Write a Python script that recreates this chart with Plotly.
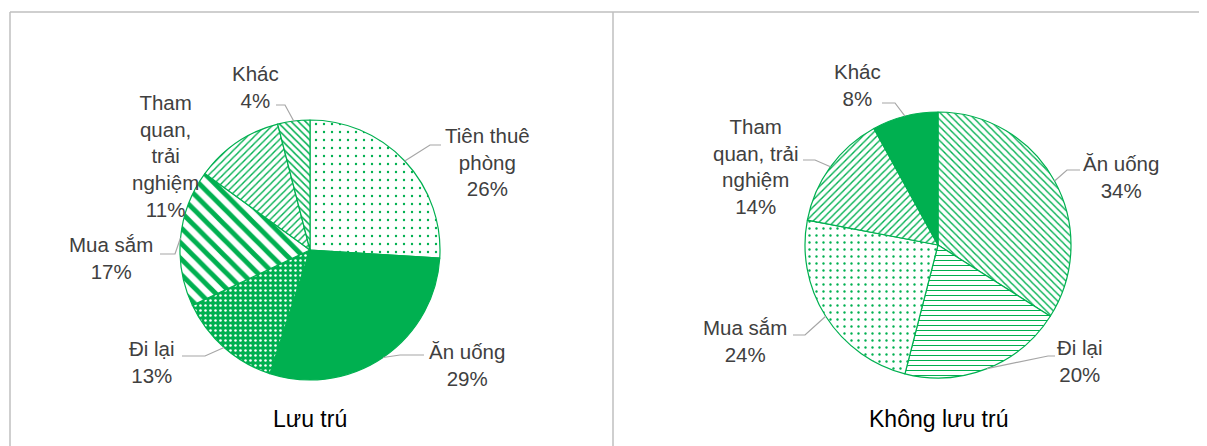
import math
import plotly.graph_objects as go

# ---- data ----
left_labels = ["Tiên thuê phòng", "Ăn uống", "Đi lại", "Mua sắm", "Tham quan, trải nghiệm", "Khác"]
left_values = [26, 29, 13, 17, 11, 4]
right_labels = ["Ăn uống", "Đi lại", "Mua sắm", "Tham quan, trải nghiệm", "Khác"]
right_values = [34, 20, 24, 14, 8]
titles = ["Lưu trú", "Không lưu trú"]

# ---- style / layout ----
W, H = 1207, 446
OFF = 8  # page body margin in the browser
GREEN = "#00B050"
TEXT = "#404040"
LEAD = "#A6A6A6"
FONT = "Liberation Sans, Arial, sans-serif"

def px(x):
    return (x - OFF) / W

def py(y):
    return 1 - (y - OFF) / H

# pie geometry in screen pixels: centre x, centre y, radius
pies = [
    dict(cx=310, cy=250, r=130),
    dict(cx=938, cy=245, r=133),
]

# wrapped label text, label block centre, leader elbow and end (screen pixels)
left_text = ["Tiên thuê<br>phòng", "Ăn uống", "Đi lại", "Mua sắm", "Tham<br>quan,<br>trải<br>nghiệm", "Khác"]
left_pos = [(487, 162), (467, 365), (152, 362), (111, 258), (166, 156), (255, 87)]
left_lead = [((430, 145), (441, 145)), ((400, 355), (424, 355)), ((205, 356), (182, 356)),
             ((175, 254), (160, 254)), None, ((285, 105), (276, 105))]

right_text = ["Ăn uống", "Đi lại", "Mua sắm", "Tham<br>quan, trải<br>nghiệm", "Khác"]
right_pos = [(1121, 177), (1080, 361), (745, 341), (755, 166), (858, 85)]
right_lead = [((1067, 170), (1080, 170)), ((1048, 356), (1055, 356)), ((805, 335), (793, 335)),
              ((815, 160), (803, 160)), ((895, 103), (882, 103))]

left_pat = dict(
    shape=[".", "", ".", "\\", "/", "\\"],
    fgcolor=[GREEN, GREEN, "white", GREEN, GREEN, GREEN],
    bgcolor=["white", GREEN, GREEN, "white", "white", "white"],
    size=[8, 8, 5, 11, 5, 5],
    solidity=[0.07, 0.3, 0.2, 0.45, 0.28, 0.3],
    fillmode="replace",
)
right_pat = dict(
    shape=["\\", "-", ".", "/", ""],
    fgcolor=[GREEN, GREEN, GREEN, GREEN, GREEN],
    bgcolor=["white", "white", "white", "white", GREEN],
    size=[5, 5, 7, 5, 8],
    solidity=[0.28, 0.2, 0.09, 0.28, 0.3],
    fillmode="replace",
)

fig = go.Figure()

sets = [
    (left_labels, left_values, left_pat, left_text, left_pos, left_lead),
    (right_labels, right_values, right_pat, right_text, right_pos, right_lead),
]

annotations = []
shapes = []

for (labels, values, pat, texts, pos, lead), g, title in zip(sets, pies, titles):
    cx, cy, r = g["cx"], g["cy"], g["r"]
    fig.add_trace(go.Pie(
        labels=labels,
        values=values,
        sort=False,
        direction="clockwise",
        rotation=0,
        textinfo="none",
        hovertemplate="%{label}: %{percent}<extra></extra>",
        marker=dict(colors=pat["bgcolor"], line=dict(color=GREEN, width=1.2), pattern=pat),
        domain=dict(x=[px(cx - r), px(cx + r)], y=[py(cy + r), py(cy - r)]),
        showlegend=False,
    ))

    total = sum(values)
    cum = 0
    for v, t, (lx, ly), ld in zip(values, texts, pos, lead):
        pct = round(100 * v / total)
        annotations.append(dict(
            x=px(lx), y=py(ly), xref="paper", yref="paper",
            text=f"{t}<br>{pct}%", showarrow=False, align="center",
            xanchor="center", yanchor="middle",
            font=dict(family=FONT, size=20.5, color=TEXT),
        ))
        ang = 2 * math.pi * (cum + v / 2) / total
        cum += v
        if ld is None:
            continue
        sx = cx + r * math.sin(ang)
        sy = cy - r * math.cos(ang)
        (ex, ey), (fx, fy) = ld
        shapes.append(dict(
            type="path", xref="paper", yref="paper",
            path=f"M {px(sx)} {py(sy)} L {px(ex)} {py(ey)} L {px(fx)} {py(fy)}",
            line=dict(color=LEAD, width=1.2),
        ))

    annotations.append(dict(
        x=px(cx), y=py(419), xref="paper", yref="paper",
        text=title, showarrow=False, xanchor="center", yanchor="middle",
        font=dict(family=FONT, size=23, color="#000000"),
    ))

# frame lines
BORDER = "#BFBFBF"
shapes += [
    dict(type="line", xref="paper", yref="paper", x0=px(10), x1=1, y0=py(12), y1=py(12),
         line=dict(color=BORDER, width=1.5)),
    dict(type="line", xref="paper", yref="paper", x0=px(10), x1=px(10), y0=py(12), y1=0,
         line=dict(color=BORDER, width=1.5)),
    dict(type="line", xref="paper", yref="paper", x0=px(613), x1=px(613), y0=py(12), y1=0,
         line=dict(color=BORDER, width=1.5)),
]

fig.update_layout(
    width=W, height=H,
    margin=dict(l=0, r=0, t=0, b=0),
    paper_bgcolor="white",
    plot_bgcolor="white",
    annotations=annotations,
    shapes=shapes,
)

fig.write_html("out.html")
